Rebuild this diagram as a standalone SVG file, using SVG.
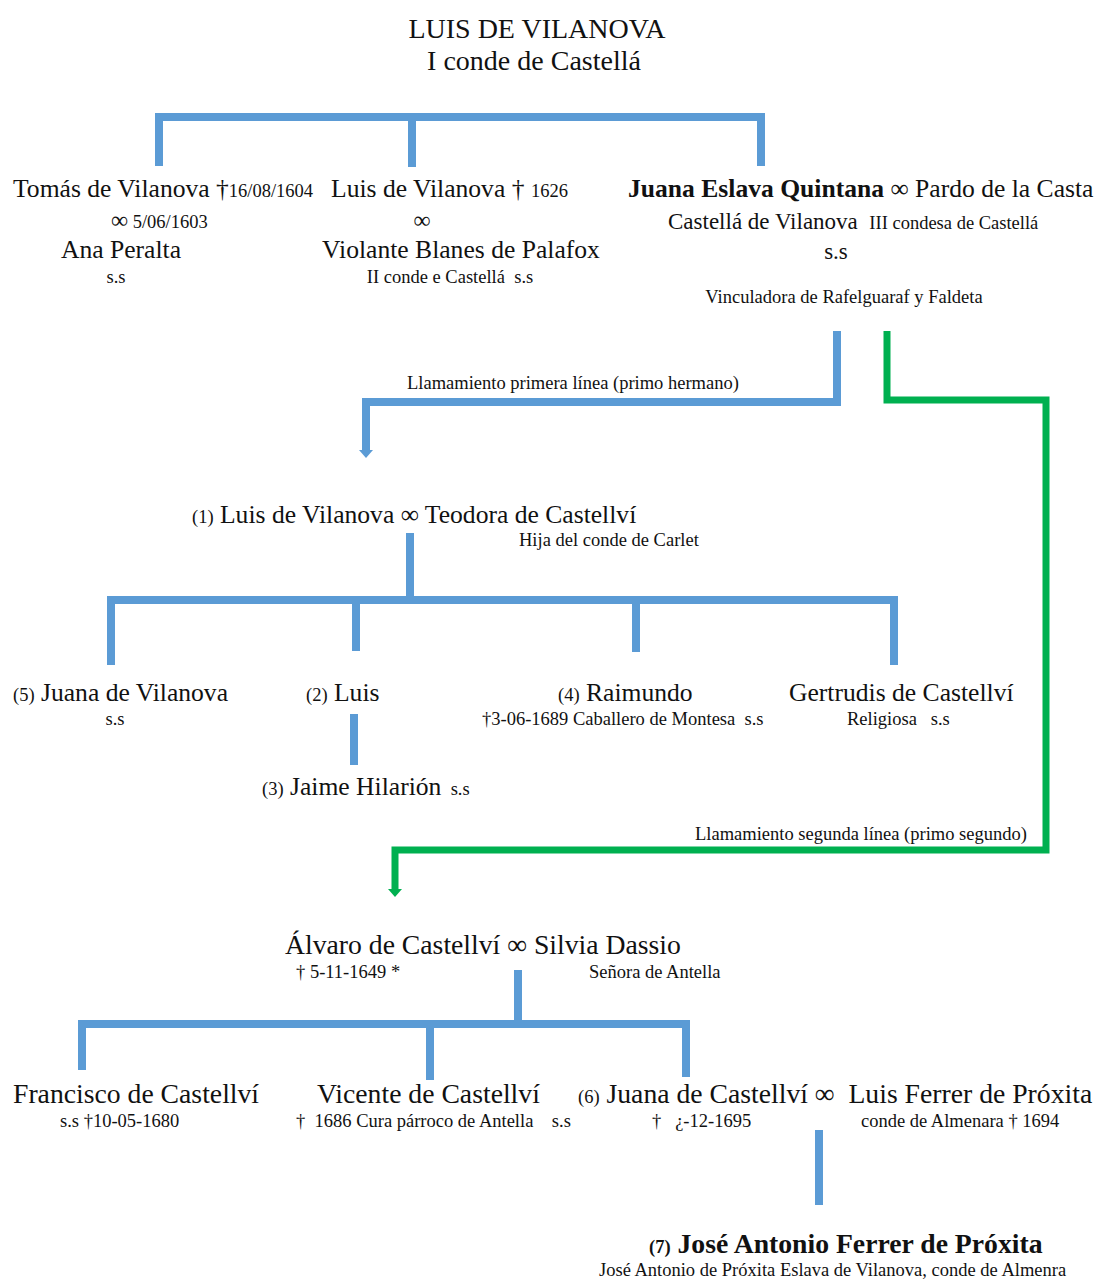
<svg xmlns="http://www.w3.org/2000/svg" width="1095" height="1280" viewBox="0 0 1095 1280">
<defs>
<style>
text{font-family:"Liberation Serif","Times New Roman",serif;fill:#111;white-space:pre}
.t{font-size:28px}
.m{font-size:25.6px}
.b{font-size:27.7px}
.s{font-size:18.5px}
.bold{font-weight:bold}
.c{text-anchor:middle}
.bl{fill:none;stroke:#5b9bd5;stroke-width:8}
.gr{fill:none;stroke:#00b050;stroke-width:7}
</style>
</defs>
<rect width="1095" height="1280" fill="#fff"/>
<g id="connectors">
<path class="bl" d="M159,166 V117 H761 V166 M412,117 V167"/>
<path class="bl" d="M837,331 V402 H366 V450"/>
<polygon points="359,450 373,450 366,458" fill="#5b9bd5"/>
<path class="gr" d="M887,331 V400 H1046 V850 H395 V889"/>
<polygon points="388,889 402,889 395,897" fill="#00b050"/>
<path class="bl" d="M410,533 V600 M111,665 V600 H894 V665 M356,600 V651 M636,600 V652"/>
<path class="bl" d="M354,714 V765"/>
<path class="bl" d="M518,970 V1024 M82,1070 V1024 H686 V1077 M430,1024 V1080"/>
<path class="bl" d="M819,1130 V1205"/>
</g>
<g id="n-root">
<text class="t c" x="537" y="38">LUIS DE VILANOVA</text>
<text class="t c" x="534" y="70">I conde de Castellá</text>
</g>
<g id="n-tomas">
<text class="m" x="13" y="197">Tomás de Vilanova †<tspan class="s">16/08/1604</tspan></text>
<text class="s" x="111" y="228"><tspan style="font-size:24px">∞</tspan> 5/06/1603</text>
<text class="m c" x="121" y="258">Ana Peralta</text>
<text class="s c" x="116" y="283">s.s</text>
</g>
<g id="n-luis">
<text class="m" x="331" y="197" xml:space="preserve">Luis de Vilanova † <tspan class="s">1626</tspan></text>
<text class="c" style="font-size:24px" x="422" y="228">∞</text>
<text class="m c" x="461" y="258">Violante Blanes de Palafox</text>
<text class="s c" x="450" y="283" xml:space="preserve">II conde e Castellá  s.s</text>
</g>
<g id="n-juana">
<text class="m" x="628" y="197" xml:space="preserve"><tspan class="bold">Juana Eslava Quintana</tspan> ∞ Pardo de la Casta</text>
<text style="font-size:23px" x="668" y="229" xml:space="preserve">Castellá de Vilanova  <tspan class="s">III condesa de Castellá</tspan></text>
<text class="c" style="font-size:23px" x="836" y="259">s.s</text>
<text class="s c" x="844" y="303">Vinculadora de Rafelguaraf y Faldeta</text>
</g>
<g id="l-primera">
<text class="s" x="407" y="389">Llamamiento primera línea (primo hermano)</text>
</g>
<g id="n-luis1">
<text class="m" x="192" y="523" xml:space="preserve"><tspan class="s">(1)</tspan> Luis de Vilanova ∞ Teodora de Castellví</text>
<text class="s" x="519" y="546">Hija del conde de Carlet</text>
</g>
<g id="n-juana5">
<text class="m" x="13" y="701" xml:space="preserve"><tspan class="s">(5)</tspan> Juana de Vilanova</text>
<text class="s c" x="115" y="725">s.s</text>
</g>
<g id="n-luis2">
<text class="m" x="306" y="701" xml:space="preserve"><tspan class="s">(2)</tspan> Luis</text>
</g>
<g id="n-jaime">
<text class="m" x="262" y="795" xml:space="preserve"><tspan class="s">(3)</tspan> Jaime Hilarión<tspan class="s">  s.s</tspan></text>
</g>
<g id="n-raimundo">
<text class="m" x="558" y="701" xml:space="preserve"><tspan class="s">(4)</tspan> Raimundo</text>
<text class="s" x="482" y="725" xml:space="preserve">†3-06-1689 Caballero de Montesa  s.s</text>
</g>
<g id="n-gertrudis">
<text class="m" x="789" y="701">Gertrudis de Castellví</text>
<text class="s" x="847" y="725" xml:space="preserve">Religiosa   s.s</text>
</g>
<g id="l-segunda">
<text class="s" x="695" y="840">Llamamiento segunda línea (primo segundo)</text>
</g>
<g id="n-alvaro">
<text class="b" x="285" y="954">Álvaro de Castellví ∞ Silvia Dassio</text>
<text class="s" x="296" y="978">† 5-11-1649 *</text>
<text class="s" x="589" y="978">Señora de Antella</text>
</g>
<g id="n-francisco">
<text class="b" x="13" y="1103">Francisco de Castellví</text>
<text class="s" x="60" y="1127">s.s †10-05-1680</text>
</g>
<g id="n-vicente">
<text class="b" x="317" y="1103">Vicente de Castellví</text>
<text class="s" x="296" y="1127" xml:space="preserve">†  1686 Cura párroco de Antella    s.s</text>
</g>
<g id="n-juana6">
<text class="b" x="578" y="1103" xml:space="preserve"><tspan class="s">(6)</tspan> Juana de Castellví ∞  Luis Ferrer de Próxita</text>
<text class="s" x="652" y="1127" xml:space="preserve">†   ¿-12-1695</text>
<text class="s" x="861" y="1127">conde de Almenara † 1694</text>
</g>
<g id="n-jose">
<text class="b bold" x="649" y="1253" xml:space="preserve"><tspan class="s">(7)</tspan> José Antonio Ferrer de Próxita</text>
<text class="s" x="599" y="1276">José Antonio de Próxita Eslava de Vilanova, conde de Almenra</text>
</g>
</svg>
